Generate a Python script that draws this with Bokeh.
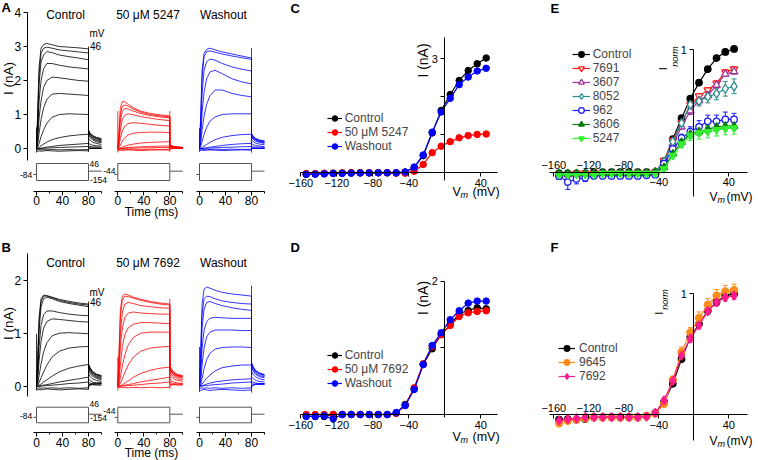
import math
from bokeh.plotting import figure
from bokeh.models import (Range1d, LinearAxis, FixedTicker, Label, Legend, LegendItem,
                          ColumnDataSource, Whisker, TeeHead)
from bokeh.embed import file_html
from bokeh.resources import INLINE

FONT = "Liberation Sans"

# ---------------- data: current traces (A, B) ----------------
T_STEP = [0, 2, 4, 7, 11, 16, 24, 35, 50, 65, 80]
T_TAIL = [80, 82, 86, 92, 100]
TRACE_T = T_STEP + T_TAIL

A_CTRL = [
    [0, 1.2, 2.4, 2.95, 3.06, 3.09, 3.05, 3.0, 2.98, 2.96, 2.93, 0.55, 0.47, 0.39, 0.33, 0.29],
    [0, 1.0, 2.2, 2.8, 2.95, 2.98, 2.95, 2.9, 2.87, 2.84, 2.81, 0.53, 0.45, 0.37, 0.31, 0.27],
    [0, 0.8, 1.9, 2.55, 2.75, 2.85, 2.82, 2.75, 2.7, 2.66, 2.61, 0.51, 0.43, 0.35, 0.29, 0.25],
    [0, 0.5, 1.4, 2.0, 2.35, 2.5, 2.5, 2.45, 2.4, 2.37, 2.34, 0.48, 0.4, 0.32, 0.26, 0.22],
    [0, 0.3, 0.9, 1.4, 1.8, 2.0, 2.1, 2.08, 2.04, 2.0, 1.98, 0.45, 0.37, 0.29, 0.23, 0.2],
    [0, 0.15, 0.45, 0.85, 1.2, 1.45, 1.6, 1.62, 1.6, 1.58, 1.56, 0.4, 0.33, 0.26, 0.2, 0.17],
    [0, 0.05, 0.15, 0.35, 0.55, 0.75, 0.92, 1.0, 1.02, 1.01, 1.0, 0.3, 0.25, 0.19, 0.15, 0.12],
    [0, 0, 0.03, 0.08, 0.13, 0.19, 0.26, 0.32, 0.37, 0.4, 0.42, 0.16, 0.13, 0.1, 0.08, 0.07],
    [0, 0, 0, 0.01, 0.02, 0.04, 0.06, 0.09, 0.11, 0.13, 0.15, 0.07, 0.06, 0.05, 0.04, 0.04],
    [0, 0, 0, 0, 0.01, 0.01, 0.02, 0.03, 0.04, 0.05, 0.06, 0.03, 0.02, 0.02, 0.02, 0.01],
    [-0.03, -0.04, -0.03, -0.04, -0.03, -0.04, -0.03, -0.04, -0.03, -0.04, -0.03, -0.01, 0, 0, 0, 0],
    [-0.07, -0.08, -0.07, -0.08, -0.07, -0.06, -0.07, -0.08, -0.07, -0.06, -0.07, -0.02, 0.01, 0, 0, 0],
]
A_DRUG = [
    [0, 0.6, 1.2, 1.38, 1.37, 1.3, 1.2, 1.1, 1.03, 0.99, 0.96, 0.12, 0.09, 0.06, 0.04, 0.03],
    [0, 0.45, 1.0, 1.25, 1.28, 1.24, 1.16, 1.07, 1.0, 0.96, 0.93, 0.11, 0.08, 0.06, 0.04, 0.03],
    [0, 0.3, 0.8, 1.1, 1.18, 1.16, 1.1, 1.03, 0.97, 0.93, 0.9, 0.1, 0.08, 0.05, 0.04, 0.03],
    [0, 0.2, 0.55, 0.85, 0.98, 1.02, 0.99, 0.94, 0.89, 0.85, 0.82, 0.09, 0.07, 0.05, 0.04, 0.03],
    [0, 0.1, 0.3, 0.52, 0.66, 0.73, 0.76, 0.74, 0.71, 0.68, 0.66, 0.08, 0.06, 0.04, 0.03, 0.02],
    [0, 0.03, 0.1, 0.22, 0.32, 0.4, 0.45, 0.47, 0.48, 0.48, 0.47, 0.06, 0.05, 0.04, 0.03, 0.02],
    [0, 0, 0.02, 0.04, 0.07, 0.1, 0.13, 0.16, 0.18, 0.19, 0.2, 0.04, 0.03, 0.02, 0.02, 0.01],
    [0, 0, 0, 0.01, 0.02, 0.03, 0.04, 0.05, 0.06, 0.07, 0.07, 0.02, 0.02, 0.01, 0.01, 0.01],
    [0, 0, 0, 0, 0, 0.01, 0.01, 0.02, 0.02, 0.03, 0.03, 0.01, 0.01, 0.01, 0.0, 0.0],
    [-0.02, -0.03, -0.02, -0.03, -0.02, -0.03, -0.02, -0.03, -0.02, -0.03, -0.02, 0, 0, 0, 0, 0],
    [-0.05, -0.06, -0.05, -0.06, -0.05, -0.04, -0.05, -0.06, -0.05, -0.04, -0.05, -0.01, 0, 0, 0, 0],
]
A_WASH = [
    [0, 1.1, 2.3, 2.8, 2.92, 2.95, 2.9, 2.84, 2.78, 2.72, 2.66, 0.45, 0.37, 0.3, 0.25, 0.22],
    [0, 0.9, 2.1, 2.7, 2.85, 2.87, 2.83, 2.78, 2.72, 2.67, 2.62, 0.43, 0.36, 0.29, 0.24, 0.21],
    [0, 0.6, 1.6, 2.3, 2.55, 2.63, 2.6, 2.5, 2.4, 2.33, 2.28, 0.41, 0.34, 0.27, 0.22, 0.19],
    [0, 0.35, 1.05, 1.65, 2.05, 2.25, 2.3, 2.2, 2.05, 1.96, 1.9, 0.38, 0.31, 0.25, 0.2, 0.17],
    [0, 0.18, 0.55, 0.95, 1.3, 1.55, 1.72, 1.72, 1.62, 1.56, 1.52, 0.34, 0.28, 0.22, 0.18, 0.15],
    [0, 0.07, 0.2, 0.42, 0.62, 0.8, 0.93, 1.0, 1.02, 1.02, 1.02, 0.26, 0.21, 0.16, 0.13, 0.11],
    [0, 0, 0.03, 0.07, 0.12, 0.18, 0.26, 0.33, 0.38, 0.41, 0.42, 0.14, 0.12, 0.09, 0.07, 0.06],
    [0, 0, 0, 0.01, 0.02, 0.04, 0.06, 0.09, 0.12, 0.14, 0.15, 0.06, 0.05, 0.04, 0.04, 0.03],
    [0, 0, 0, 0, 0.01, 0.01, 0.02, 0.03, 0.04, 0.05, 0.06, 0.03, 0.02, 0.02, 0.01, 0.01],
    [-0.02, -0.03, -0.02, -0.03, -0.02, -0.03, -0.02, -0.03, -0.02, -0.03, -0.02, 0, 0, 0, 0, 0],
    [-0.05, -0.06, -0.05, -0.06, -0.05, -0.04, -0.05, -0.06, -0.05, -0.04, -0.05, -0.01, 0, 0, 0, 0],
]
B_CTRL = [
    [0, 0.6, 1.3, 1.65, 1.72, 1.71, 1.68, 1.64, 1.6, 1.57, 1.55, 0.42, 0.36, 0.28, 0.23, 0.2],
    [0, 0.5, 1.2, 1.6, 1.7, 1.7, 1.67, 1.62, 1.58, 1.55, 1.53, 0.41, 0.35, 0.27, 0.22, 0.19],
    [0, 0.4, 1.05, 1.5, 1.65, 1.68, 1.65, 1.6, 1.56, 1.53, 1.5, 0.4, 0.34, 0.26, 0.21, 0.18],
    [0, 0.25, 0.75, 1.15, 1.35, 1.42, 1.42, 1.39, 1.36, 1.34, 1.33, 0.38, 0.31, 0.24, 0.19, 0.16],
    [0, 0.15, 0.48, 0.85, 1.1, 1.22, 1.27, 1.26, 1.24, 1.22, 1.21, 0.35, 0.29, 0.22, 0.17, 0.14],
    [0, 0.06, 0.2, 0.42, 0.65, 0.82, 0.95, 1.0, 1.01, 1.0, 0.99, 0.3, 0.25, 0.19, 0.15, 0.12],
    [0, 0.02, 0.07, 0.16, 0.27, 0.4, 0.55, 0.66, 0.72, 0.74, 0.75, 0.24, 0.19, 0.14, 0.11, 0.09],
    [0, 0, 0.02, 0.04, 0.08, 0.12, 0.19, 0.27, 0.34, 0.38, 0.41, 0.14, 0.11, 0.08, 0.06, 0.05],
    [0, 0, 0, 0.01, 0.02, 0.03, 0.05, 0.08, 0.11, 0.14, 0.17, 0.07, 0.06, 0.05, 0.04, 0.04],
    [0, 0, 0, 0, 0.01, 0.01, 0.02, 0.03, 0.05, 0.06, 0.08, 0.04, 0.03, 0.03, 0.02, 0.02],
    [-0.03, -0.04, -0.03, -0.04, -0.03, -0.04, -0.03, -0.04, -0.03, -0.04, -0.03, -0.01, 0.02, 0.03, 0.04, 0.05],
    [-0.06, -0.07, -0.06, -0.07, -0.06, -0.05, -0.06, -0.07, -0.06, -0.05, -0.06, -0.02, 0.03, 0.05, 0.06, 0.07],
]
B_DRUG = [
    [0, 0.7, 1.45, 1.7, 1.74, 1.72, 1.68, 1.64, 1.6, 1.57, 1.55, 0.4, 0.33, 0.27, 0.22, 0.2],
    [0, 0.55, 1.3, 1.62, 1.7, 1.69, 1.66, 1.62, 1.58, 1.55, 1.53, 0.39, 0.32, 0.26, 0.21, 0.19],
    [0, 0.4, 1.0, 1.4, 1.55, 1.58, 1.56, 1.52, 1.5, 1.48, 1.47, 0.37, 0.3, 0.24, 0.2, 0.18],
    [0, 0.25, 0.75, 1.1, 1.3, 1.38, 1.4, 1.38, 1.37, 1.36, 1.36, 0.35, 0.29, 0.23, 0.19, 0.17],
    [0, 0.12, 0.4, 0.75, 0.98, 1.1, 1.17, 1.2, 1.2, 1.19, 1.18, 0.32, 0.27, 0.21, 0.17, 0.15],
    [0, 0.05, 0.17, 0.38, 0.6, 0.78, 0.92, 1.0, 1.02, 1.02, 1.02, 0.28, 0.23, 0.18, 0.14, 0.12],
    [0, 0.02, 0.06, 0.14, 0.26, 0.4, 0.55, 0.66, 0.72, 0.74, 0.75, 0.22, 0.18, 0.14, 0.11, 0.09],
    [0, 0, 0.01, 0.03, 0.06, 0.1, 0.17, 0.24, 0.3, 0.34, 0.36, 0.13, 0.1, 0.08, 0.06, 0.05],
    [0, 0, 0, 0.01, 0.02, 0.03, 0.05, 0.08, 0.11, 0.14, 0.17, 0.07, 0.06, 0.05, 0.04, 0.04],
    [0, 0, 0, 0, 0.01, 0.01, 0.02, 0.03, 0.05, 0.06, 0.08, 0.04, 0.03, 0.03, 0.02, 0.02],
    [-0.02, -0.03, -0.02, -0.03, -0.02, -0.03, -0.02, -0.03, -0.02, -0.03, -0.02, 0, 0.02, 0.03, 0.04, 0.04],
]
B_WASH = [
    [0, 0.75, 1.55, 1.83, 1.87, 1.85, 1.81, 1.77, 1.74, 1.72, 1.7, 0.45, 0.38, 0.3, 0.25, 0.22],
    [0, 0.6, 1.35, 1.65, 1.7, 1.69, 1.65, 1.61, 1.58, 1.56, 1.55, 0.44, 0.37, 0.29, 0.24, 0.21],
    [0, 0.45, 1.1, 1.45, 1.58, 1.6, 1.56, 1.52, 1.48, 1.45, 1.43, 0.42, 0.35, 0.28, 0.23, 0.2],
    [0, 0.25, 0.72, 1.05, 1.22, 1.28, 1.3, 1.29, 1.28, 1.28, 1.28, 0.39, 0.32, 0.25, 0.2, 0.18],
    [0, 0.12, 0.4, 0.72, 0.93, 1.02, 1.06, 1.06, 1.06, 1.05, 1.05, 0.35, 0.29, 0.23, 0.18, 0.16],
    [0, 0.04, 0.15, 0.33, 0.5, 0.62, 0.7, 0.73, 0.74, 0.74, 0.73, 0.28, 0.23, 0.18, 0.14, 0.12],
    [0, 0.01, 0.04, 0.09, 0.15, 0.21, 0.29, 0.35, 0.38, 0.4, 0.4, 0.18, 0.15, 0.11, 0.09, 0.08],
    [0, 0, 0.01, 0.02, 0.04, 0.06, 0.08, 0.1, 0.12, 0.13, 0.14, 0.09, 0.08, 0.06, 0.05, 0.05],
    [0, 0, 0, 0.01, 0.01, 0.02, 0.03, 0.04, 0.06, 0.07, 0.08, 0.05, 0.04, 0.04, 0.03, 0.03],
    [-0.03, -0.04, -0.03, -0.04, -0.03, -0.04, -0.03, -0.04, -0.03, -0.04, -0.03, 0, 0.02, 0.03, 0.04, 0.04],
    [-0.07, -0.08, -0.07, -0.06, -0.07, -0.08, -0.07, -0.06, -0.07, -0.08, -0.07, -0.02, 0.02, 0.04, 0.05, 0.05],
]
# capacitive transients at step on/off: rows = low values, high values at SPIKE_T
SPIKE_T = [0, 80]
A_CTRL_SPIKE = [[-0.12, -0.1], [0.62, 3.0]]
A_DRUG_SPIKE = [[-0.12, -0.1], [1.1, 1.1]]
A_WASH_SPIKE = [[-0.1, -0.12], [0.6, 2.95]]
B_CTRL_SPIKE = [[-0.08, -0.05], [0.99, 1.6]]
B_DRUG_SPIKE = [[-0.08, -0.05], [0.55, 1.65]]
B_WASH_SPIKE = [[-0.11, -0.12], [0.74, 1.9]]

# voltage protocol (mV, ms)
PROT_T = [-5, 0, 80, 100]
HOLD_MV = -84
STEP_TOP_MV = 46
STEP_BOTTOM_MV = -154
TAIL_MV = -44

# ---------------- data: I-V curves ----------------
V = [-154, -144, -134, -124, -114, -104, -94, -84, -74, -64, -54, -44, -34, -24, -14, -4, 6, 16, 26, 36, 46]

C_CTRL = [-0.04, -0.03, -0.02, -0.01, -0.01, 0, 0, 0, 0, 0, 0, 0.02, 0.14, 0.45, 1.05, 1.64, 2.06, 2.43, 2.69, 2.87, 3.02]
C_DRUG = [-0.02, -0.02, -0.01, -0.01, 0, 0, 0, 0, 0, 0, -0.01, -0.01, 0.04, 0.22, 0.53, 0.70, 0.82, 0.92, 0.98, 1.01, 1.02]
C_WASH = [-0.04, -0.035, -0.03, -0.02, -0.015, -0.01, -0.005, -0.005, 0, 0, 0, 0.02, 0.15, 0.47, 1.07, 1.6, 1.96, 2.32, 2.52, 2.68, 2.75]

D_CTRL = [-0.02, -0.03, -0.03, 0, 0, 0, 0, 0, 0, 0, 0.02, 0.15, 0.385, 0.75, 0.985, 1.2, 1.345, 1.51, 1.56, 1.60, 1.585]
D_DRUG = [0, 0, 0, 0, 0, 0, 0, 0, 0, 0, 0.02, 0.135, 0.40, 0.76, 1.02, 1.195, 1.335, 1.47, 1.525, 1.545, 1.555]
D_WASH = [-0.03, -0.03, -0.02, -0.065, 0, 0, 0, 0, 0, 0, 0.03, 0.135, 0.375, 0.75, 1.035, 1.225, 1.42, 1.555, 1.67, 1.70, 1.70]

E_CTRL = [-0.01, -0.01, -0.01, -0.01, 0, 0, 0, 0, 0, 0, 0, 0.0, 0.09, 0.27, 0.44, 0.60, 0.73, 0.84, 0.93, 0.98, 1.005]
E_7691 = [-0.02, -0.02, -0.01, -0.01, -0.01, -0.01, -0.01, -0.01, -0.01, -0.01, -0.01, 0.0, 0.095, 0.26, 0.40, 0.55, 0.62, 0.67, 0.725, 0.815, 0.84]
E_3607 = [-0.02, -0.02, -0.02, -0.01, -0.01, -0.01, -0.01, -0.01, -0.01, -0.01, -0.01, 0.0, 0.085, 0.23, 0.37, 0.50, 0.585, 0.625, 0.71, 0.80, 0.82]
E_8052 = [-0.02, -0.02, -0.02, -0.02, -0.01, -0.01, -0.01, -0.01, -0.01, -0.01, -0.01, 0.0, 0.087, 0.25, 0.40, 0.55, 0.58, 0.615, 0.64, 0.68, 0.70]
E_962 = [-0.03, -0.08, -0.055, -0.046, -0.03, -0.03, -0.03, -0.03, -0.03, -0.03, -0.025, -0.02, 0.07, 0.19, 0.28, 0.33, 0.37, 0.415, 0.415, 0.43, 0.43]
E_3606 = [-0.01, -0.01, -0.01, -0.01, -0.01, -0.01, -0.01, -0.01, -0.01, -0.01, -0.01, 0.0, 0.04, 0.15, 0.245, 0.31, 0.33, 0.35, 0.37, 0.375, 0.375]
E_5247 = [-0.02, -0.02, -0.02, -0.02, -0.02, -0.01, -0.01, -0.01, -0.01, -0.01, -0.01, -0.01, 0.027, 0.136, 0.23, 0.30, 0.32, 0.33, 0.345, 0.355, 0.36]
E_CTRL_ERR = [0, 0, 0, 0, 0, 0, 0, 0, 0, 0, 0, 0, 0.01, 0.01, 0.01, 0.01, 0.01, 0.01, 0.01, 0.01, 0.01]
E_7691_ERR = [0, 0, 0, 0, 0, 0, 0, 0, 0, 0, 0, 0, 0.01, 0.01, 0.02, 0.02, 0.02, 0.02, 0.02, 0.02, 0.02]
E_3607_ERR = [0, 0, 0, 0, 0, 0, 0, 0, 0, 0, 0, 0, 0.01, 0.02, 0.02, 0.03, 0.03, 0.03, 0.03, 0.02, 0.02]
E_8052_ERR = [0.02, 0.02, 0.01, 0.01, 0, 0, 0, 0, 0, 0, 0, 0, 0.01, 0.02, 0.03, 0.03, 0.04, 0.05, 0.05, 0.06, 0.06]
E_962_ERR = [0.03, 0.06, 0.04, 0.03, 0.01, 0.01, 0, 0, 0, 0, 0, 0, 0.01, 0.02, 0.03, 0.04, 0.05, 0.05, 0.05, 0.06, 0.05]
E_3606_ERR = [0.01, 0.01, 0.01, 0, 0, 0, 0, 0, 0, 0, 0, 0, 0.01, 0.02, 0.03, 0.03, 0.03, 0.03, 0.03, 0.03, 0.03]
E_5247_ERR = [0.02, 0.02, 0.01, 0.01, 0, 0, 0, 0, 0, 0, 0, 0, 0.01, 0.02, 0.03, 0.04, 0.05, 0.05, 0.05, 0.05, 0.05]

F_CTRL = [-0.04, -0.035, -0.04, -0.035, -0.02, -0.02, -0.02, -0.02, -0.02, -0.02, -0.01, 0.014, 0.105, 0.256, 0.46, 0.64, 0.75, 0.86, 0.93, 0.985, 1.0]
F_9645 = [-0.07, -0.05, -0.04, -0.03, -0.02, -0.02, -0.02, -0.02, -0.02, -0.02, -0.01, 0.01, 0.09, 0.29, 0.52, 0.68, 0.80, 0.91, 0.985, 1.02, 1.03]
F_7692 = [-0.047, -0.035, -0.03, -0.02, -0.02, -0.02, -0.02, -0.02, -0.02, -0.02, -0.015, 0.016, 0.12, 0.28, 0.49, 0.63, 0.74, 0.857, 0.93, 0.97, 0.985]
F_CTRL_ERR = [0.01, 0.01, 0.01, 0.01, 0, 0, 0, 0, 0, 0, 0, 0.01, 0.02, 0.02, 0.02, 0.02, 0.02, 0.02, 0.02, 0.02, 0.02]
F_9645_ERR = [0.02, 0.02, 0.02, 0.01, 0, 0, 0, 0, 0, 0, 0, 0.01, 0.02, 0.03, 0.04, 0.04, 0.05, 0.05, 0.05, 0.05, 0.05]
F_7692_ERR = [0.01, 0.01, 0.01, 0.01, 0, 0, 0, 0, 0, 0, 0, 0.01, 0.02, 0.02, 0.03, 0.03, 0.03, 0.03, 0.03, 0.03, 0.03]

AX_TICKS_T = [0, 40, 80]
AX_MINOR_T = [20, 60, 100]
A_I_TICKS = [0, 1, 2, 3, 4]
B_I_TICKS = [0, 1, 2]
V_TICKS = [-160, -120, -80, -40, 40]

# ---------------- figure & coordinate frames ----------------
FX0, FX1, FY0, FY1 = 0, 758, 0, 460   # frame edges in page pixels

p = figure(width=758, height=460, output_backend="svg", toolbar_location=None,
           x_range=Range1d(FX0, FX1), y_range=Range1d(FY1, FY0),
           x_axis_location=None, y_axis_location=None, min_border=0)
p.grid.visible = False
p.outline_line_color = None


def xr(v0, px0, scale):
    return Range1d(v0 + (FX0 - px0) / scale, v0 + (FX1 - px0) / scale)


def yr(v0, py0, scale):
    return Range1d(v0 - (FY1 - py0) / scale, v0 + (py0 - FY0) / scale)


p.extra_x_ranges = {
    "t1": xr(0, 36.0, 0.65), "t2": xr(0, 117.3, 0.65), "t3": xr(0, 199.0, 0.65),
    "cx": xr(0, 444.3, 0.9), "ex": xr(0, 693.3, 0.875),
}
p.extra_y_ranges = {
    "ay": yr(0, 148.0, 34.0), "amv": yr(46, 163.0, 17.0 / 200),
    "by": yr(0, 385.7, 53.0), "bmv": yr(46, 406.7, 15.6 / 200),
    "cy": yr(0, 172.3, 38.0), "dy": yr(0, 414.0, 66.7),
    "ey": yr(0, 171.7, 122.7), "fy": yr(0, 414.3, 121.0),
}


def axis(side, xname, yname, loc, ticks, minor, bounds, overrides=None,
         size="11px", tick_out=4, standoff=2, line=True):
    ax = LinearAxis(x_range_name=xname, y_range_name=yname, fixed_location=loc,
                    bounds=bounds, ticker=FixedTicker(ticks=ticks, minor_ticks=minor))
    ax.major_label_text_font = FONT
    ax.major_label_text_font_size = size
    ax.major_label_text_color = "black"
    ax.axis_line_color = "black" if line else None
    ax.axis_line_width = 1
    ax.major_tick_line_color = "black" if tick_out > 0 else None
    ax.minor_tick_line_color = "black" if tick_out > 0 else None
    ax.major_tick_out = tick_out
    ax.major_tick_in = 0
    ax.minor_tick_out = 2
    ax.minor_tick_in = 0
    ax.major_label_standoff = standoff
    if overrides:
        ax.major_label_overrides = overrides
    p.add_layout(ax, side)
    return ax


def txt(x, y, s, size=12, align="center", baseline="middle", angle=0.0,
        style="normal"):
    p.add_layout(Label(x=x, y=y, text=s, text_font=FONT, text_font_size=f"{size}px",
                       text_align=align, text_baseline=baseline, angle=angle,
                       text_font_style=style, text_color="black"))


# ---------------- A and B: current traces ----------------
PROT_COLOR = "#555555"
rows = [
    ("ay", "amv", [A_CTRL, A_DRUG, A_WASH], [A_CTRL_SPIKE, A_DRUG_SPIKE, A_WASH_SPIKE]),
    ("by", "bmv", [B_CTRL, B_DRUG, B_WASH], [B_CTRL_SPIKE, B_DRUG_SPIKE, B_WASH_SPIKE]),
]
colors3 = ["black", "red", "blue"]
for yname, mvname, groups, spikes in rows:
    for tname, tr, sp, col in zip(["t1", "t2", "t3"], groups, spikes, colors3):
        p.multi_line(xs=[TRACE_T] * len(tr), ys=tr, x_range_name=tname, y_range_name=yname,
                     line_color=col, line_width=0.8)
        p.segment(x0=SPIKE_T, x1=SPIKE_T, y0=sp[0], y1=sp[1], x_range_name=tname,
                  y_range_name=yname, line_color=col, line_width=0.8)
        # protocol
        p.quad(left=[PROT_T[1]], right=[PROT_T[2]], top=[STEP_TOP_MV], bottom=[STEP_BOTTOM_MV],
               x_range_name=tname, y_range_name=mvname, fill_color=None,
               line_color=PROT_COLOR, line_width=1)
        p.line(x=PROT_T[0:2], y=[HOLD_MV, HOLD_MV], x_range_name=tname, y_range_name=mvname,
               line_color=PROT_COLOR, line_width=1)
        p.line(x=PROT_T[2:4], y=[TAIL_MV, TAIL_MV], x_range_name=tname, y_range_name=mvname,
               line_color=PROT_COLOR, line_width=1)

# axes A/B
axis("left", "default", "ay", 26.7, A_I_TICKS, [], (-0.35, 4.0), size="12px")
axis("left", "default", "by", 26.7, B_I_TICKS, [], (-0.2, 2.5), size="12px")
for tname in ["t1", "t2", "t3"]:
    axis("below", tname, "default", 190.7, AX_TICKS_T, AX_MINOR_T, (-5, 100), size="12px", standoff=1)
    axis("below", tname, "default", 432.0, AX_TICKS_T, AX_MINOR_T, (-5, 100), size="12px", standoff=1)

# texts A/B
txt(1, 7, "A", size=13, align="left", style="bold")
txt(1, 247, "B", size=13, align="left", style="bold")
for ytitle, drug in [(14, "50 μM 5247"), (262.7, "50 μM 7692")]:
    txt(65, ytitle, "Control")
    txt(147.5, ytitle, drug)
    txt(223, ytitle, "Washout")
txt(8, 78, "I (nA)", size=13.5, angle=math.pi / 2)
txt(8, 323, "I (nA)", size=13.5, angle=math.pi / 2)
txt(151, 211, "Time (ms)")
txt(151, 452, "Time (ms)")
for ymv, y46 in [(33, 45), (291.7, 301)]:
    txt(89, ymv, "mV", size=10, align="left")
    txt(89.5, y46, "46", size=10, align="left")
# protocol labels
txt(89, 163.3, "46", size=8.5, align="left")
txt(89.5, 179.7, "-154", size=8.5, align="left")
txt(31.7, 174, "-84", size=8.5, align="right")
txt(115, 170.7, "-44", size=8.5, align="right")
txt(89, 403.3, "46", size=8.5, align="left")
txt(89.5, 417, "-154", size=8.5, align="left")
txt(31.7, 415, "-84", size=8.5, align="right")
txt(115, 410.5, "-44", size=8.5, align="right")

# ---------------- C and D ----------------
def legend(items, left, top, n, gw, standoff, row=14.3):
    leg = Legend(items=items, location=(left - FX0, FY1 - (top + n * row)),
                 orientation="vertical", padding=0, margin=0, spacing=0,
                 glyph_width=gw, glyph_height=int(round(row)), label_height=int(round(row)),
                 label_standoff=standoff, label_text_font=FONT, label_text_font_size="12px",
                 background_fill_alpha=0, border_line_alpha=0)
    p.add_layout(leg)


for yname, series, labels, ltop in [
    ("cy", [C_CTRL, C_DRUG, C_WASH], ["Control", "50 μM 5247", "Washout"], 110.2),
    ("dy", [D_CTRL, D_DRUG, D_WASH], ["Control", "50 μM 7692", "Washout"], 346.9),
]:
    items = []
    for vals, col, lab in zip(series, colors3, labels):
        lr = p.line(x=V, y=vals, x_range_name="cx", y_range_name=yname, line_color=col, line_width=1.2)
        sr = p.scatter(x=V, y=vals, x_range_name="cx", y_range_name=yname, marker="circle",
                       size=6.5, fill_color=col, line_color=col)
        items.append(LegendItem(label=lab, renderers=[lr, sr]))
    legend(items, 326.7, ltop, 3, 15, 3)

axis("below", "cx", "cy", 0, V_TICKS, [], (-160, 59))
axis("left", "cx", "cy", 0, [0, 1, 2, 3], [], (-0.2, 3.57), overrides={0: "", 1: "", 2: ""}, standoff=3)
axis("below", "cx", "dy", 0, V_TICKS, [], (-160, 59))
axis("left", "cx", "dy", 0, [0, 1, 2], [], (-0.05, 2.0), overrides={0: "", 1: ""}, standoff=3)

txt(290, 8, "C", size=13, align="left", style="bold")
txt(290, 247, "D", size=13, align="left", style="bold")
txt(422, 60, "I (nA)", size=14, angle=math.pi / 2)
txt(422, 297.5, "I (nA)", size=14, angle=math.pi / 2)


def vm_label(x, y, gap=19, size=12.5):
    txt(x, y, "V", size=size, align="left")
    txt(x + 8, y + 3, "m", size=9, align="left", style="italic")
    txt(x + gap, y, "(mV)", size=size, align="left")


vm_label(452, 191.7, gap=20)
vm_label(452, 436.7, gap=20)

# ---------------- E and F ----------------
E_SERIES = [
    ("Control", E_CTRL, E_CTRL_ERR, "black", "circle", "black", 6.5),
    ("7691", E_7691, E_7691_ERR, "#ff1a1a", "inverted_triangle", "white", 7.5),
    ("3607", E_3607, E_3607_ERR, "#993399", "triangle", "white", 7.5),
    ("8052", E_8052, E_8052_ERR, "#2a8c8c", "diamond", "white", 9),
    ("962", E_962, E_962_ERR, "#1a1aff", "circle", "white", 6.5),
    ("3606", E_3606, E_3606_ERR, "#0a7a0a", "triangle", "#0a7a0a", 7.5),
    ("5247", E_5247, E_5247_ERR, "#33ee33", "inverted_triangle", "#33ee33", 7.5),
]
F_SERIES = [
    ("Control", F_CTRL, F_CTRL_ERR, "black", "circle", "black", 6.5),
    ("9645", F_9645, F_9645_ERR, "#ff8c1a", "circle", "#ff8c1a", 7),
    ("7692", F_7692, F_7692_ERR, "#ff1a8c", "diamond", "#ff1a8c", 9),
]

for yname, series, left, top, gw, so in [("ey", E_SERIES, 571.7, 45.1, 18, 3),
                                         ("fy", F_SERIES, 558.0, 340.1, 17, 4)]:
    items = []
    for lab, vals, err, col, mk, fill, sz in series:
        keep = [i for i, e in enumerate(err) if e > 0]
        src = ColumnDataSource(data=dict(
            base=[V[i] for i in keep],
            upper=[vals[i] + err[i] for i in keep],
            lower=[vals[i] - err[i] for i in keep]))
        w = Whisker(base="base", upper="upper", lower="lower", source=src, dimension="height",
                    x_range_name="ex", y_range_name=yname, line_color=col, line_width=1,
                    upper_head=TeeHead(size=5, line_color=col, line_width=1),
                    lower_head=TeeHead(size=5, line_color=col, line_width=1), level="underlay")
        p.add_layout(w)
        lr = p.line(x=V, y=vals, x_range_name="ex", y_range_name=yname, line_color=col, line_width=1.2)
        sr = p.scatter(x=V, y=vals, x_range_name="ex", y_range_name=yname, marker=mk, size=sz,
                       fill_color=fill, line_color=col, line_width=1.3)
        items.append(LegendItem(label=lab, renderers=[lr, sr]))
    legend(items, left, top, len(series), gw, so)

for yname, ybounds in [("ey", (-0.2, 1.0)), ("fy", (-0.21, 1.0))]:
    axis("below", "ex", yname, 0, V_TICKS, [], (-165, 61),
         overrides={-160: "", -120: "", -80: ""})
    axis("above", "ex", yname, 0, [-160, -120, -80], [], (-165, 61), tick_out=0, standoff=3, line=False)
    axis("left", "ex", yname, 0, [0, 1], [], ybounds, overrides={0: ""}, standoff=3)

txt(550, 8, "E", size=13, align="left", style="bold")
txt(550, 247, "F", size=13, align="left", style="bold")
vm_label(709, 196.7, gap=17, size=12)
vm_label(709, 440, gap=17, size=12)
# I_norm labels (rotated, centred)
txt(662, 68.3, "I", size=11, angle=math.pi / 2)
txt(674, 56, "norm", size=9, angle=math.pi / 2, style="italic")
txt(658.7, 312.7, "I", size=11, angle=math.pi / 2)
txt(664.7, 299, "norm", size=9, angle=math.pi / 2, style="italic")

open("out.html", "w").write(file_html(p, INLINE))
